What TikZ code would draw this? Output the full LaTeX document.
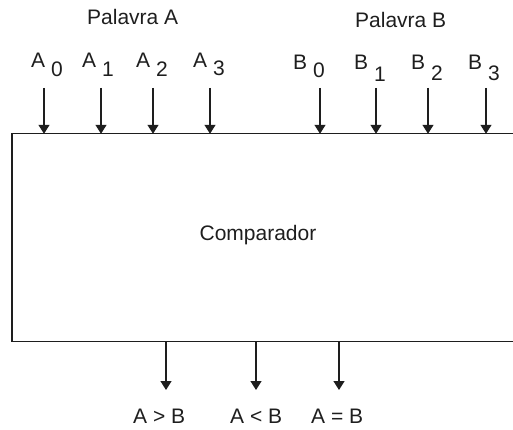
\documentclass[tikz,border=0pt]{standalone}
\usepackage{fontspec}
\setmainfont{Liberation Sans}
\usetikzlibrary{arrows.meta}
\definecolor{ink}{HTML}{1E1E1E}
\tikzset{
  txt/.style={inner sep=0pt, anchor=base west, font=\fontsize{21}{24}\selectfont, text=ink},
  ctxt/.style={inner sep=0pt, anchor=base, font=\fontsize{21}{24}\selectfont, text=ink},
  arr/.style={draw=ink, line width=1.3pt, -{Triangle[width=11pt,length=9pt]}},
  frame/.style={draw=ink, line width=1.4pt},
  boxnode/.style={draw=none, inner sep=0pt, minimum width=508pt, minimum height=207pt}
}
\newcommand{\sublbl}[3]{#1 \raisebox{-#3pt}{#2}}
\begin{document}
\begin{tikzpicture}[x=1pt,y=-1pt]
\useasboundingbox (0,0) rectangle (513,430);
% box
\node[boxnode] (box) at (266,237.5) {};
\draw[frame] (box.north east) -- (box.north west) -- (box.south west) -- (box.south east);
\node[ctxt] (cmp) at (258,240) {Comparador};
% word labels
\node[txt] (pa) at (87,25) {Palavra A};
\node[txt] (pb) at (355,28) {Palavra B};
% input labels
\node[txt] (la0) at (31,68) {\sublbl{A}{0}{9}};
\node[txt] (la1) at (82,68) {\sublbl{A}{1}{9}};
\node[txt] (la2) at (136,68) {\sublbl{A}{2}{9}};
\node[txt] (la3) at (193,68) {\sublbl{A}{3}{8}};
\node[txt] (lb0) at (293,70) {\sublbl{B}{0}{8}};
\node[txt] (lb1) at (354,70) {\sublbl{B}{1}{12}};
\node[txt] (lb2) at (411,70) {\sublbl{B}{2}{11}};
\node[txt] (lb3) at (468,70) {\sublbl{B}{3}{11}};
% input arrow starts
\foreach \n/\x in {a0/44,a1/101,a2/153,a3/210,b0/320,b1/376,b2/428,b3/486}
  \coordinate (\n) at (\x,88);
\foreach \n in {a0,a1,a2,a3,b0,b1,b2,b3}
  \draw[arr] (\n) -- (\n |- box.north);
% outputs
\coordinate (og) at (166,390);
\coordinate (ol) at (256,390);
\coordinate (oe) at (339,390);
\foreach \n in {og,ol,oe}
  \draw[arr] (\n |- box.south) -- (\n);
\node[txt] (tg) at (133,423) {A > B};
\node[txt] (tl) at (230,423) {A < B};
\node[txt] (te) at (311,423) {A = B};
\end{tikzpicture}
\end{document}
